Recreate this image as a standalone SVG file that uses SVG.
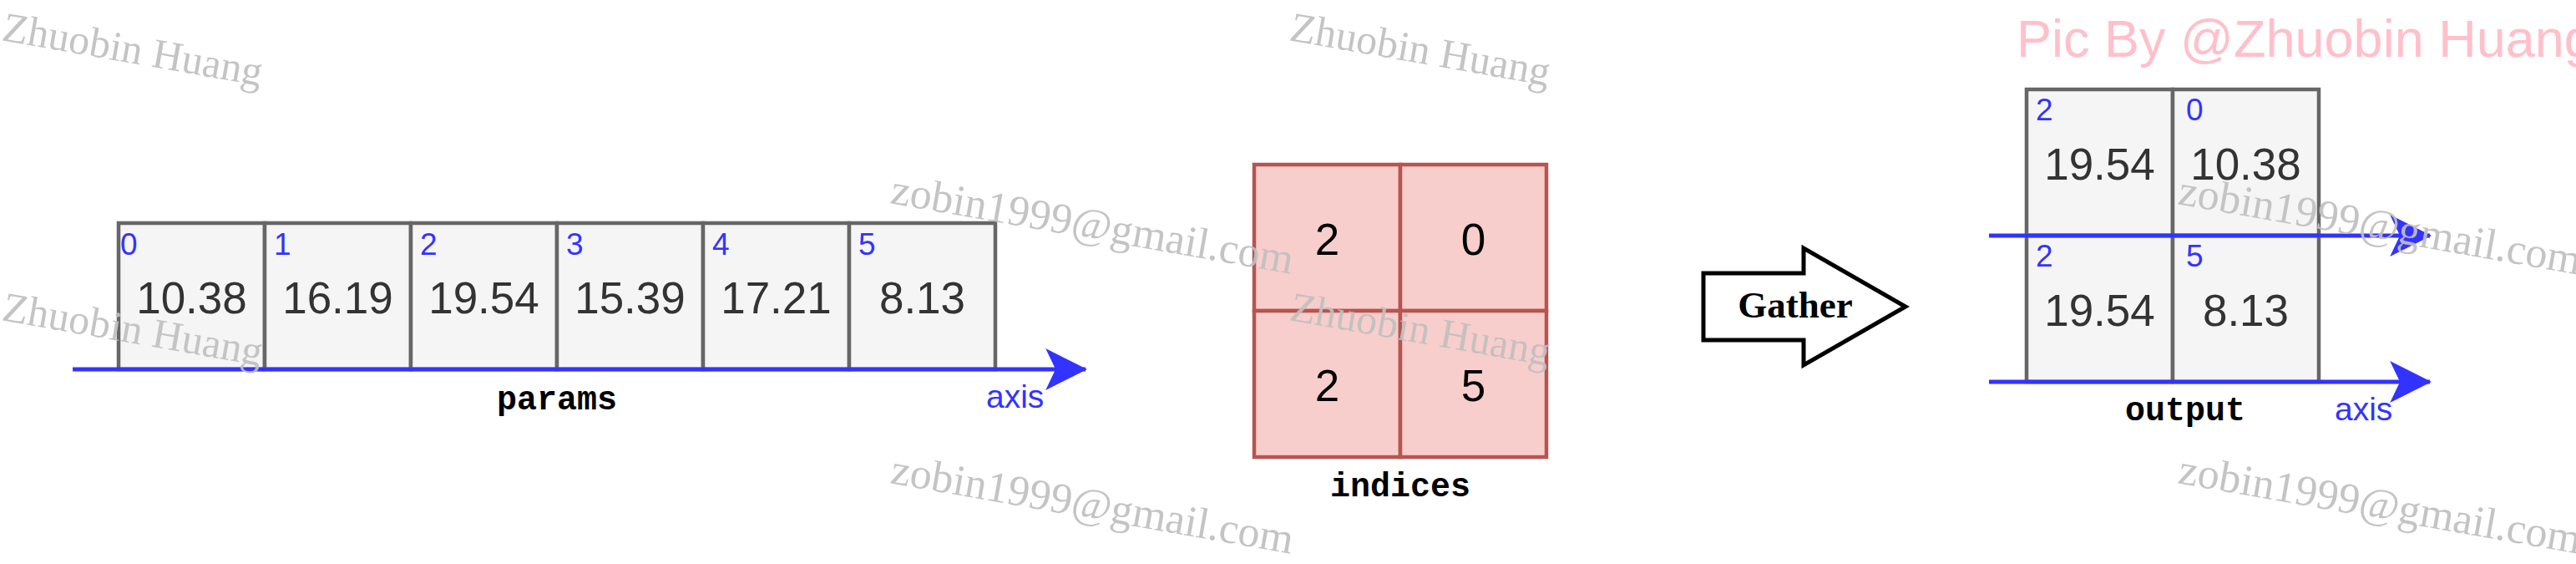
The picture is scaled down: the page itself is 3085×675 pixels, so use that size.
<svg xmlns="http://www.w3.org/2000/svg" width="3085" height="675" viewBox="0 0 3085 675">
  <style>
    .cell { fill: #f5f5f5; stroke: #666666; stroke-width: 4.5; }
    .icell { fill: #f8cecc; stroke: #b85450; stroke-width: 4.5; }
    .val { font-family: "Liberation Sans", Arial, Helvetica, sans-serif; font-size: 53px; fill: #333333; text-anchor: middle; }
    .ival { font-family: "Liberation Sans", Arial, Helvetica, sans-serif; font-size: 53px; fill: #000000; text-anchor: middle; }
    .idx { font-family: "Liberation Sans", Arial, Helvetica, sans-serif; font-size: 37px; fill: #3333ff; }
    .axis { font-family: "Liberation Sans", Arial, Helvetica, sans-serif; font-size: 39px; fill: #3333ff; }
    .name { font-family: "Liberation Mono", "Courier New", monospace; font-size: 40px; font-weight: bold; fill: #000000; text-anchor: middle; }
    .line { stroke: #3333ff; stroke-width: 5; fill: none; }
    .wm { font-family: "Liberation Serif", "Times New Roman", serif; font-size: 50px; fill: #c0c0c0; opacity: 0.92; }
    .wm2 { font-family: "Liberation Serif", "Times New Roman", serif; font-size: 52px; fill: #c0c0c0; opacity: 0.92; }
  </style>
  <defs>
    <marker id="head" markerUnits="userSpaceOnUse" markerWidth="50" markerHeight="50" viewBox="0 0 46 46" refX="44" refY="23" orient="auto">
      <path d="M0,0 L46,23 L0,46 L11,23 Z" fill="#3333ff"/>
    </marker>
  </defs>

  <rect x="0" y="0" width="3085" height="675" fill="#ffffff"/>

  <g id="params">
    <rect class="cell" x="142" y="267" width="175" height="175"/>
    <rect class="cell" x="317" y="267" width="175" height="175"/>
    <rect class="cell" x="492" y="267" width="175" height="175"/>
    <rect class="cell" x="667" y="267" width="175" height="175"/>
    <rect class="cell" x="842" y="267" width="175" height="175"/>
    <rect class="cell" x="1017" y="267" width="175" height="175"/>
    <text class="idx" x="144" y="305">0</text>
    <text class="idx" x="328" y="305">1</text>
    <text class="idx" x="503" y="305">2</text>
    <text class="idx" x="678" y="305">3</text>
    <text class="idx" x="853" y="305">4</text>
    <text class="idx" x="1028" y="305">5</text>
    <text class="val" x="229.5" y="375">10.38</text>
    <text class="val" x="404.5" y="375">16.19</text>
    <text class="val" x="579.5" y="375">19.54</text>
    <text class="val" x="754.5" y="375">15.39</text>
    <text class="val" x="929.5" y="375">17.21</text>
    <text class="val" x="1104.5" y="375">8.13</text>
  </g>

  <g id="indices">
    <rect class="icell" x="1502" y="197" width="175" height="175"/>
    <rect class="icell" x="1677" y="197" width="175" height="175"/>
    <rect class="icell" x="1502" y="372" width="175" height="175"/>
    <rect class="icell" x="1677" y="372" width="175" height="175"/>
    <text class="ival" x="1589.5" y="305">2</text>
    <text class="ival" x="1764.5" y="305">0</text>
    <text class="ival" x="1589.5" y="480">2</text>
    <text class="ival" x="1764.5" y="480">5</text>
  </g>

  <g id="gather">
    <polygon points="2040,327 2160,327 2160,297 2282,367 2160,437 2160,407 2040,407" fill="#ffffff" stroke="#000000" stroke-width="5" stroke-linejoin="miter"/>
    <text x="2150" y="380" font-family="'Liberation Serif', 'Times New Roman', serif" font-size="45" font-weight="bold" fill="#000000" text-anchor="middle">Gather</text>
  </g>

  <g id="output">
    <rect class="cell" x="2427" y="107" width="175" height="175"/>
    <rect class="cell" x="2602" y="107" width="175" height="175"/>
    <rect class="cell" x="2427" y="282" width="175" height="175"/>
    <rect class="cell" x="2602" y="282" width="175" height="175"/>
    <text class="idx" x="2438" y="144">2</text>
    <text class="idx" x="2618" y="144">0</text>
    <text class="idx" x="2438" y="319">2</text>
    <text class="idx" x="2618" y="319">5</text>
    <text class="val" x="2514.5" y="215">19.54</text>
    <text class="val" x="2689.5" y="215">10.38</text>
    <text class="val" x="2514.5" y="390">19.54</text>
    <text class="val" x="2689.5" y="390">8.13</text>
  </g>

  <g id="connectors">
    <line class="line" x1="87" y1="442" x2="1300" y2="442" marker-end="url(#head)"/>
    <line class="line" x1="2382" y1="282" x2="2910" y2="282" marker-end="url(#head)"/>
    <line class="line" x1="2382" y1="457" x2="2910" y2="457" marker-end="url(#head)"/>
  </g>

  <g id="labels">
    <text class="name" x="667" y="490">params</text>
    <text class="axis" x="1181" y="488">axis</text>
    <text class="name" x="1677" y="594">indices</text>
    <text class="name" x="2617" y="503">output</text>
    <text class="axis" x="2796" y="503">axis</text>
    <text x="2415" y="68" font-family="'Liberation Sans', Arial, Helvetica, sans-serif" font-size="63" fill="#ffc0cb">Pic By @Zhuobin Huang</text>
  </g>

  <g id="watermarks">
    <text class="wm" transform="translate(1,48) rotate(10)">Zhuobin Huang</text>
    <text class="wm" transform="translate(1543,48) rotate(10)">Zhuobin Huang</text>
    <text class="wm" transform="translate(1,383) rotate(10)">Zhuobin Huang</text>
    <text class="wm" transform="translate(1543,383) rotate(10)">Zhuobin Huang</text>
    <text class="wm2" transform="translate(1065,243) rotate(10)">zobin1999@gmail.com</text>
    <text class="wm2" transform="translate(2607,244) rotate(10)">zobin1999@gmail.com</text>
    <text class="wm2" transform="translate(1065,578) rotate(10)">zobin1999@gmail.com</text>
    <text class="wm2" transform="translate(2607,578) rotate(10)">zobin1999@gmail.com</text>
  </g>
</svg>
